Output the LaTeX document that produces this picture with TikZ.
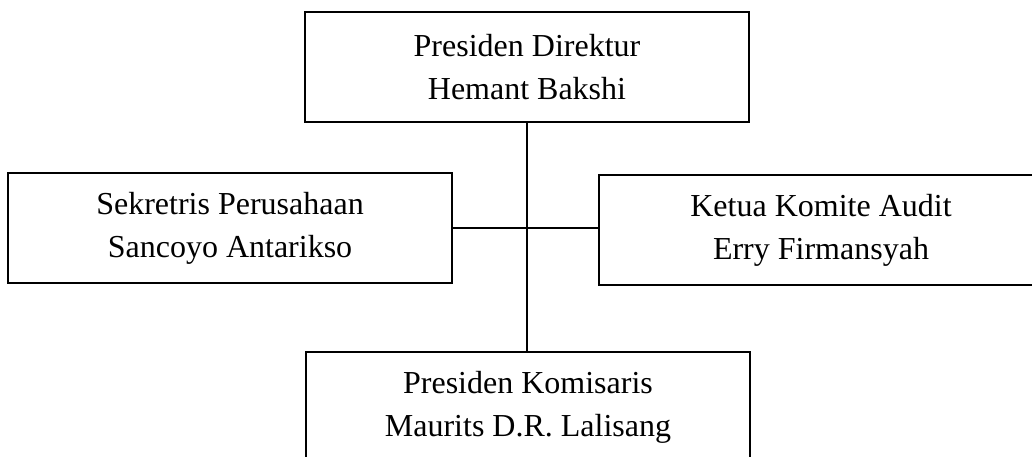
\documentclass[tikz,border=0pt]{standalone}
\usepackage{fontspec}
\setmainfont{Liberation Serif}
\begin{document}
\begin{tikzpicture}[x=1pt,y=1pt,
  orgbox/.style={draw, line width=1.4pt, minimum width=444pt, minimum height=110pt,
    inner sep=0pt, align=center, font=\fontsize{32}{43}\selectfont},
  link/.style={line width=1.4pt}]
\useasboundingbox (0,0) rectangle (1032,-457);
\clip (0,0) rectangle (1032,-457);
\node[orgbox] (dir) at (527,-67) {Presiden Direktur\\Hemant Bakshi};
\node[orgbox] (sek) at (230,-228) {Sekretris Perusahaan\\Sancoyo Antarikso};
\node[orgbox] (aud) at (821,-230) {Ketua Komite Audit\\Erry Firmansyah};
\node[orgbox] (kom) at (528,-407) {Presiden Komisaris\\Maurits D.R. Lalisang};
\draw[link] (dir.south) -- (dir.south |- kom.north);
\draw[link] (sek.east) -- (sek.east -| aud.west);
\end{tikzpicture}
\end{document}
